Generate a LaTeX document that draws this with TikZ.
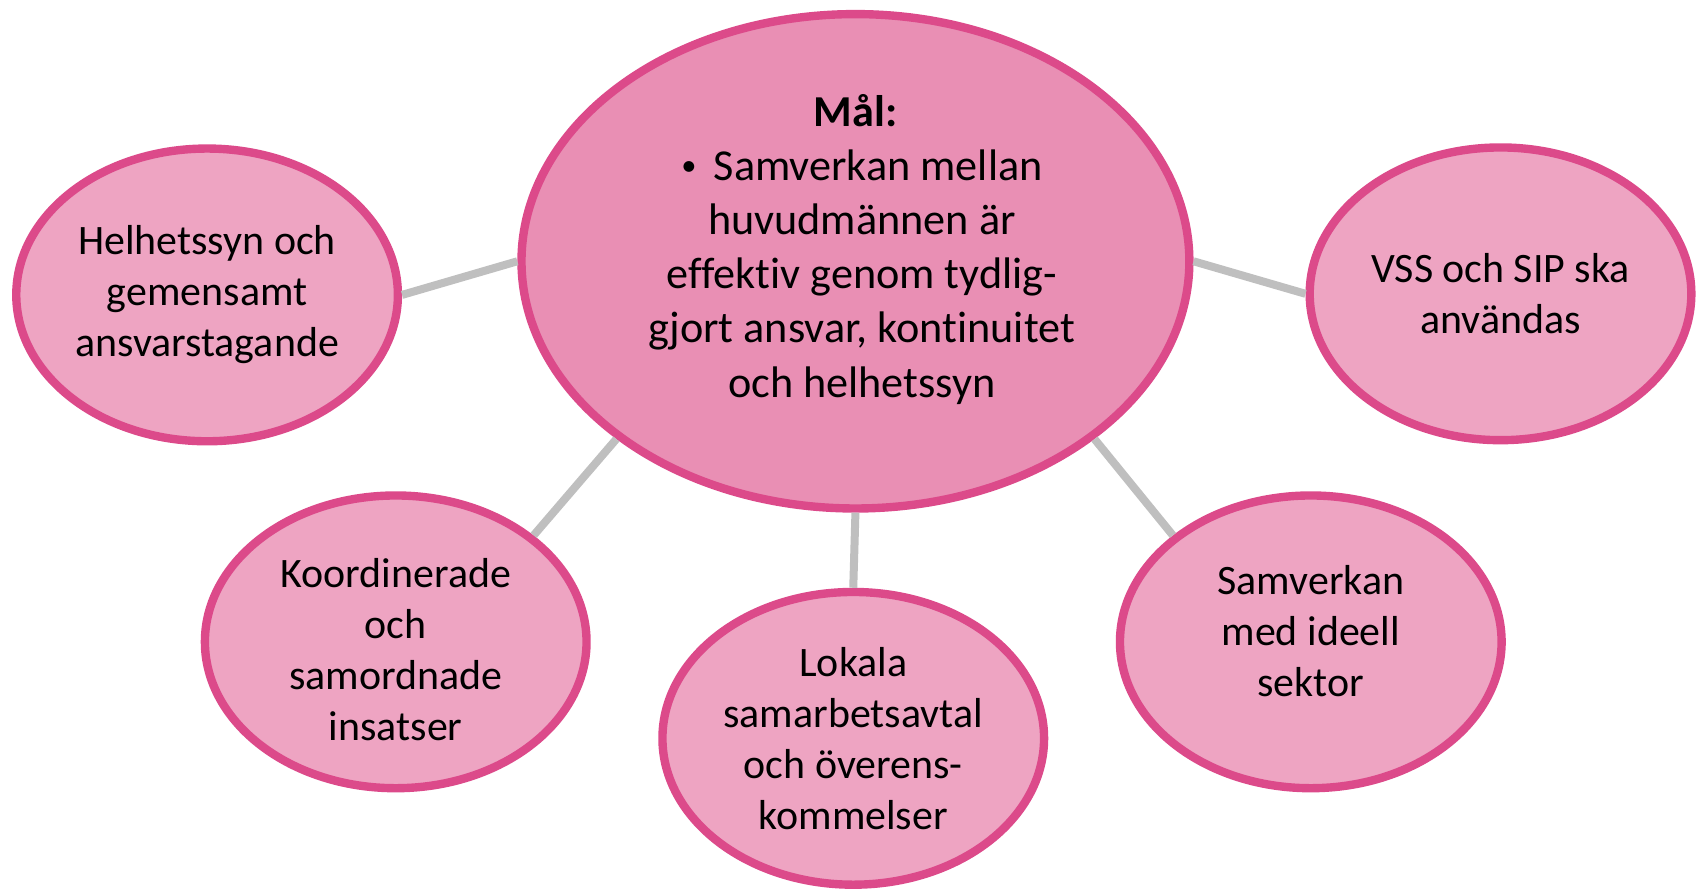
\documentclass[tikz,border=0pt]{standalone}
\usepackage{fontspec}
\setmainfont{Carlito}[Ligatures=NoCommon]
\usetikzlibrary{shapes.geometric}
\definecolor{rimpink}{HTML}{DC4A8A}
\definecolor{goalpink}{HTML}{E98FB4}
\definecolor{leafpink}{HTML}{EEA4C2}
\definecolor{linkgray}{HTML}{BFBFBF}

\begin{document}
\begin{tikzpicture}
      \tikzstyle{every node}+=[inner sep=0pt, align=center]
      \tikzstyle{goalnode}=[ellipse, draw=rimpink, line width=2.2pt, fill=goalpink, minimum width=6.16cm, minimum height=4.56cm]
      \tikzstyle{leafnode}=[ellipse, draw=rimpink, line width=2.2pt, fill=leafpink, minimum width=3.52cm, minimum height=2.70cm]
      \tikzstyle{leaftext}=[font=\fontsize{11}{13.4}\selectfont]
      \tikzstyle{link}=[draw=linkgray, line width=2.1pt]
      \useasboundingbox (0,0) rectangle (15.68,-8.20);
      \node [goalnode] (goal) at (7.89,-2.41) {};
      \node [leafnode] (helhet) at (1.91,-2.72) {};
      \node [leafnode] (vss) at (13.84,-2.71) {};
      \node [leafnode] (koord) at (3.65,-5.92) {};
      \node [leafnode] (lokala) at (7.87,-6.81) {};
      \node [leafnode] (ideell) at (12.09,-5.92) {};
      % texts
      \node [font=\fontsize{11.6}{14.2}\selectfont] (goaltext) at ([xshift=0.06cm,yshift=0.11cm]goal) {\textbf{Mål:}\hspace*{0.12cm}\\\raisebox{0.25ex}{\fontsize{8}{8}\selectfont\textbullet}\hspace{0.16cm}Samverkan mellan\\huvudmännen är\\effektiv genom tydlig-\\gjort ansvar, kontinuitet\\och helhetssyn};
      \node [leaftext] (helhettext) at (helhet) {Helhetssyn och\\gemensamt\\ansvarstagande};
      \node [leaftext] (vsstext) at (vss) {VSS och SIP ska\\användas};
      \node [leaftext] (koordtext) at ([yshift=-0.07cm]koord) {Koordinerade\\och\\samordnade\\insatser};
      \node [leaftext] (lokalatext) at (lokala) {Lokala\\samarbetsavtal\\och överens-\\kommelser};
      \node [leaftext] (ideelltext) at ([yshift=0.10cm]ideell) {Samverkan\\med ideell\\sektor};
      % connectors
      \draw [link] (helhet.east) -- (goal.west);
      \draw [link] (goal.east) -- (vss.west);
      \draw [link] (goal.south west) -- (koord.north east);
      \draw [link] (goal.south) -- (lokala.north);
      \draw [link] (goal.south east) -- (ideell.north west);
\end{tikzpicture}
\end{document}
